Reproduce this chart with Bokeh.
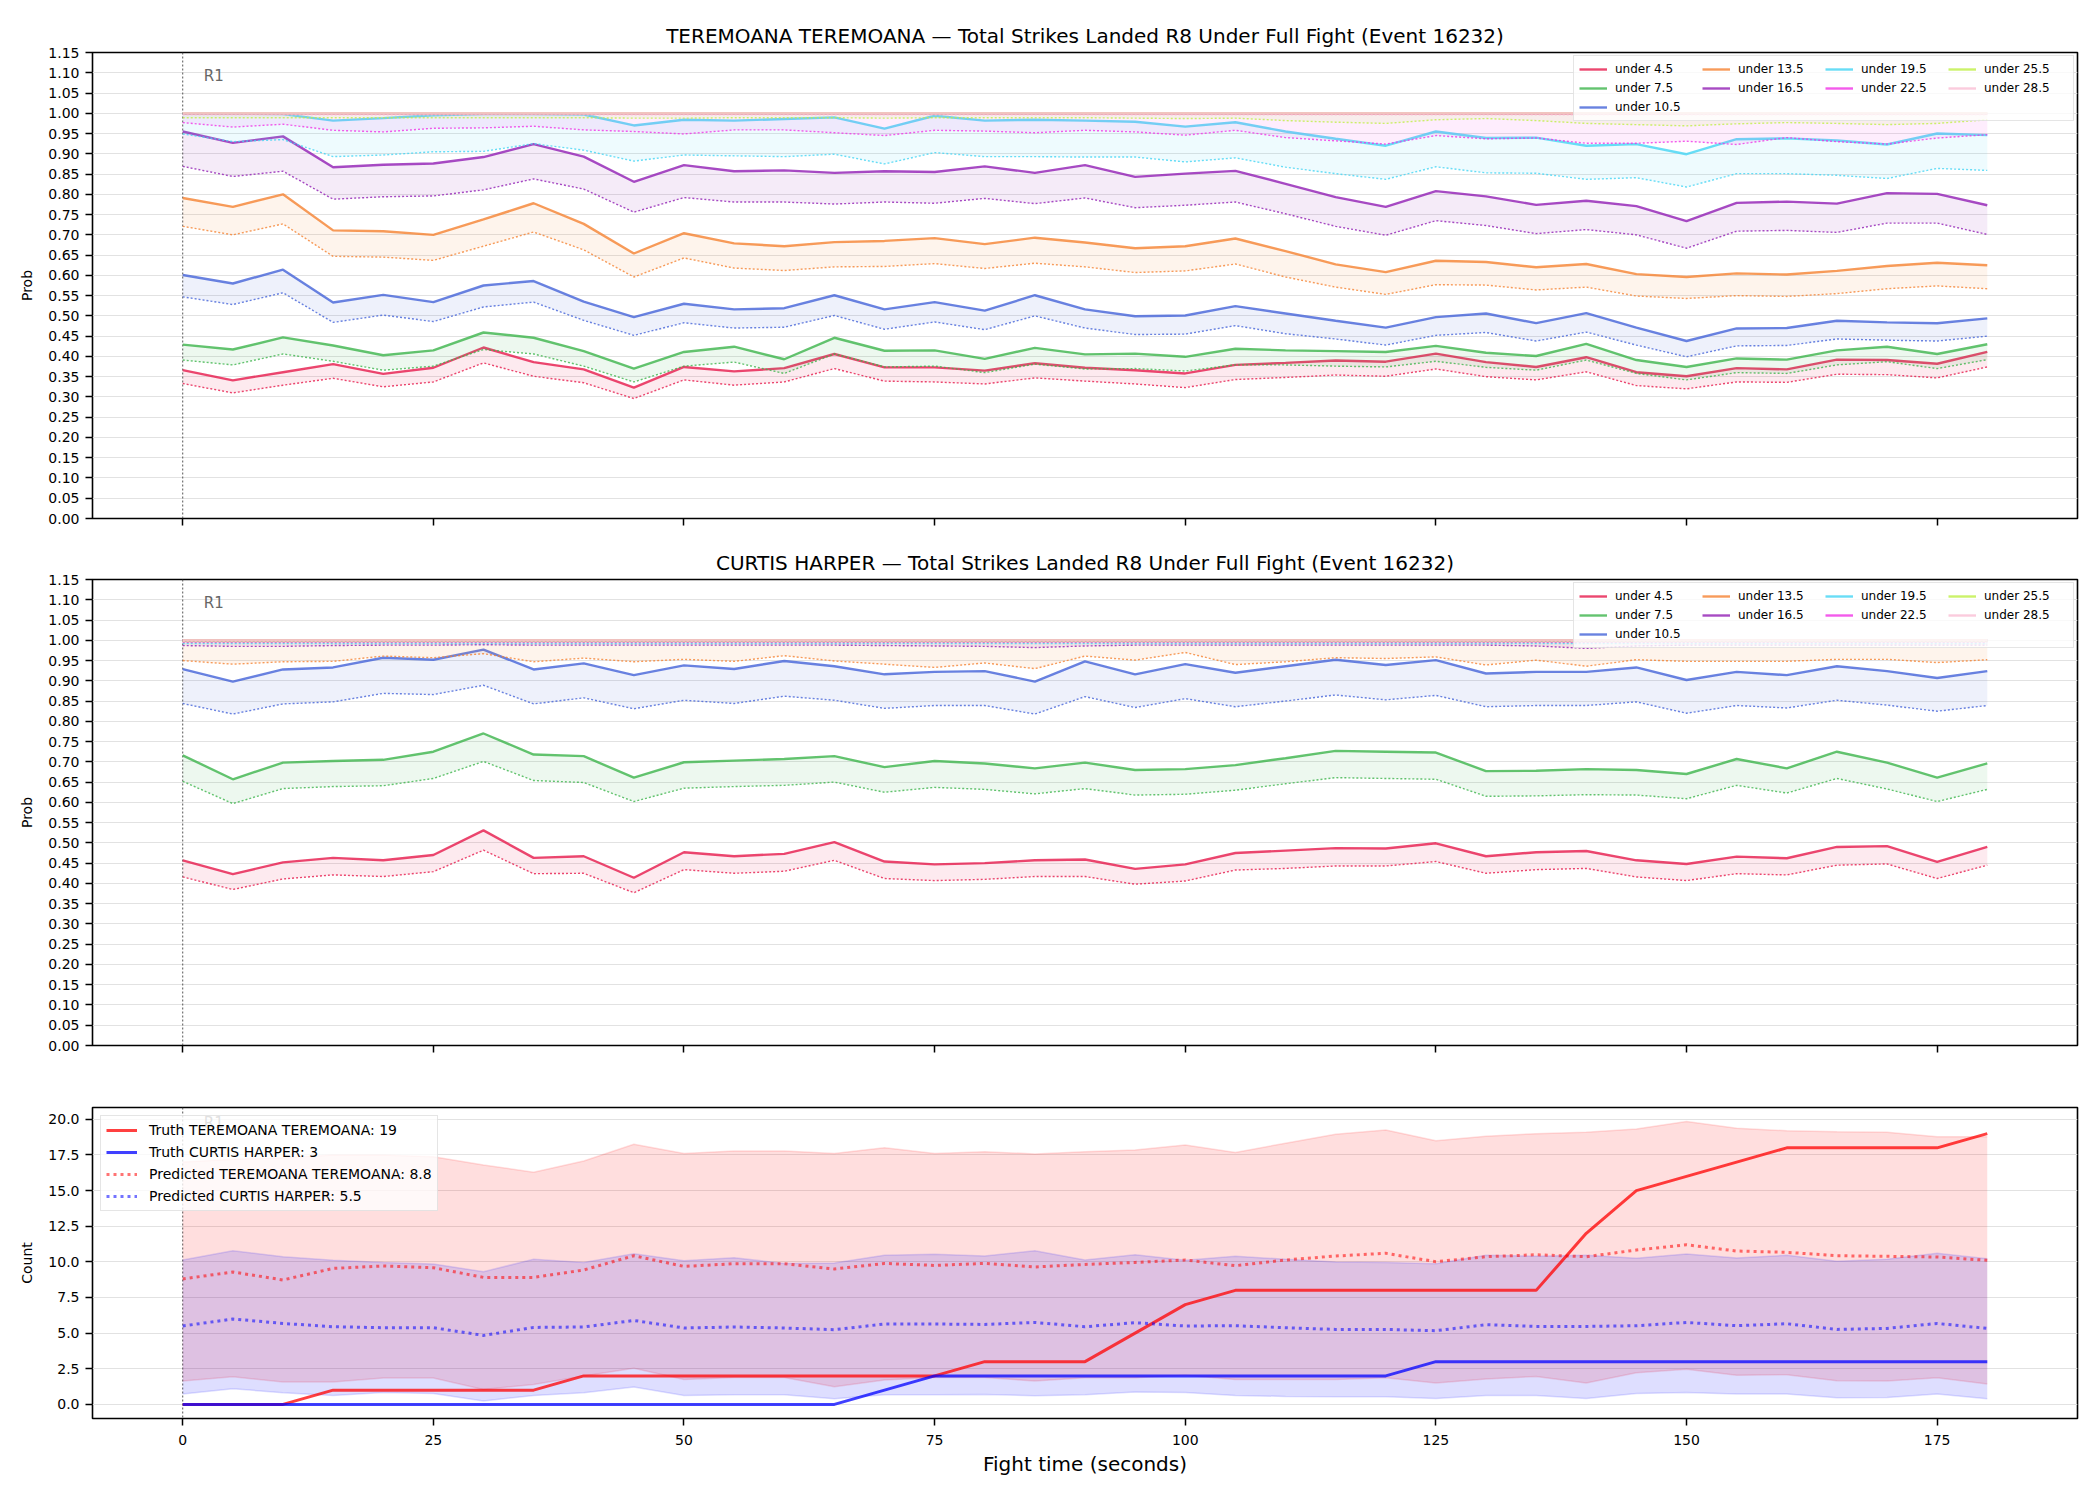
from bokeh.plotting import figure
from bokeh.layouts import column
from bokeh.models import (Range1d, FixedTicker, NumeralTickFormatter, CustomJSTickFormatter,
                          Legend, LegendItem, Span, Label)
from bokeh.embed import file_html
from bokeh.resources import INLINE

FONT = "DejaVu Sans"

# ---------------------------------------------------------------- data
fight_time = [0, 5, 10, 15, 20, 25, 30, 35, 40, 45, 50, 55, 60, 65, 70, 75, 80, 85, 90,
              95, 100, 105, 110, 115, 120, 125, 130, 135, 140, 145, 150, 155, 160, 165,
              170, 175, 180]
time_ticks = [0, 25, 50, 75, 100, 125, 150, 175]
prob_ticks = [0.0, 0.05, 0.1, 0.15, 0.2, 0.25, 0.3, 0.35, 0.4, 0.45, 0.5, 0.55, 0.6,
              0.65, 0.7, 0.75, 0.8, 0.85, 0.9, 0.95, 1.0, 1.05, 1.1, 1.15]
count_ticks = [0.0, 2.5, 5.0, 7.5, 10.0, 12.5, 15.0, 17.5, 20.0]

round_starts = [0]
round_names = ["R1"]

fighter_a = "TEREMOANA TEREMOANA"
fighter_b = "CURTIS HARPER"
market_title = "Total Strikes Landed R8 Under Full Fight (Event 16232)"

thresholds = [4.5, 7.5, 10.5, 13.5, 16.5, 19.5, 22.5, 25.5, 28.5]
line_colors = ["#e6194B", "#3cb44b", "#4363d8", "#f58231", "#911eb4",
               "#42d4f4", "#f032e6", "#bfef45", "#fabed4"]

# TEREMOANA: upper (solid) and lower (dotted) probability per threshold
tere_u4_hi = [0.366, 0.341, 0.361, 0.381, 0.357, 0.372, 0.422, 0.386, 0.368, 0.323, 0.374, 0.363,
              0.371, 0.406, 0.373, 0.373, 0.365, 0.383, 0.372, 0.366, 0.358, 0.379, 0.384, 0.390,
              0.387, 0.407, 0.386, 0.374, 0.398, 0.361, 0.351, 0.371, 0.368, 0.392, 0.391, 0.382, 0.411]
tere_u4_lo = [0.333, 0.310, 0.329, 0.346, 0.325, 0.337, 0.384, 0.351, 0.335, 0.296, 0.342, 0.329,
              0.337, 0.370, 0.339, 0.337, 0.332, 0.347, 0.339, 0.332, 0.323, 0.343, 0.348, 0.354,
              0.351, 0.369, 0.350, 0.342, 0.362, 0.328, 0.320, 0.337, 0.336, 0.356, 0.355, 0.347, 0.374]
tere_u7_hi = [0.429, 0.417, 0.447, 0.427, 0.403, 0.415, 0.459, 0.446, 0.413, 0.370, 0.411, 0.424,
              0.393, 0.446, 0.414, 0.415, 0.394, 0.421, 0.405, 0.407, 0.399, 0.419, 0.415, 0.413,
              0.411, 0.426, 0.409, 0.401, 0.431, 0.391, 0.374, 0.395, 0.392, 0.415, 0.424, 0.406, 0.430]
tere_u7_lo = [0.391, 0.379, 0.406, 0.388, 0.366, 0.376, 0.417, 0.406, 0.376, 0.337, 0.376, 0.386,
              0.358, 0.406, 0.374, 0.376, 0.360, 0.381, 0.369, 0.370, 0.364, 0.379, 0.379, 0.376,
              0.374, 0.388, 0.373, 0.366, 0.391, 0.358, 0.342, 0.360, 0.358, 0.379, 0.387, 0.370, 0.392]
tere_u10_hi = [0.601, 0.580, 0.614, 0.533, 0.552, 0.534, 0.575, 0.586, 0.535, 0.497, 0.530, 0.516,
               0.519, 0.551, 0.516, 0.534, 0.513, 0.551, 0.516, 0.499, 0.501, 0.524, 0.506, 0.488,
               0.471, 0.497, 0.506, 0.482, 0.507, 0.471, 0.438, 0.469, 0.470, 0.488, 0.484, 0.482, 0.494]
tere_u10_lo = [0.547, 0.528, 0.557, 0.484, 0.502, 0.486, 0.522, 0.534, 0.489, 0.452, 0.483, 0.470,
               0.472, 0.501, 0.467, 0.485, 0.466, 0.500, 0.470, 0.454, 0.455, 0.476, 0.456, 0.443,
               0.428, 0.452, 0.459, 0.438, 0.460, 0.428, 0.399, 0.426, 0.427, 0.443, 0.440, 0.438, 0.450]
tere_u13_hi = [0.791, 0.769, 0.800, 0.711, 0.709, 0.700, 0.738, 0.778, 0.727, 0.654, 0.704, 0.679,
               0.672, 0.682, 0.685, 0.692, 0.677, 0.693, 0.681, 0.667, 0.672, 0.691, 0.660, 0.627,
               0.608, 0.636, 0.633, 0.620, 0.628, 0.603, 0.596, 0.605, 0.602, 0.611, 0.623, 0.631, 0.625]
tere_u13_lo = [0.721, 0.700, 0.727, 0.647, 0.645, 0.637, 0.672, 0.707, 0.663, 0.596, 0.643, 0.618,
               0.612, 0.621, 0.622, 0.629, 0.617, 0.630, 0.621, 0.607, 0.611, 0.628, 0.596, 0.571,
               0.553, 0.577, 0.576, 0.564, 0.571, 0.549, 0.543, 0.550, 0.548, 0.555, 0.567, 0.574, 0.567]
tere_u16_hi = [0.955, 0.927, 0.943, 0.867, 0.873, 0.876, 0.892, 0.924, 0.893, 0.831, 0.872, 0.857,
               0.859, 0.853, 0.857, 0.855, 0.869, 0.853, 0.872, 0.843, 0.851, 0.858, 0.826, 0.793,
               0.769, 0.808, 0.795, 0.774, 0.784, 0.771, 0.734, 0.779, 0.782, 0.777, 0.803, 0.801, 0.773]
tere_u16_lo = [0.869, 0.844, 0.857, 0.788, 0.794, 0.796, 0.811, 0.838, 0.813, 0.756, 0.792, 0.781,
               0.781, 0.776, 0.781, 0.778, 0.790, 0.777, 0.791, 0.767, 0.773, 0.781, 0.752, 0.721,
               0.699, 0.735, 0.723, 0.703, 0.713, 0.700, 0.667, 0.709, 0.711, 0.706, 0.729, 0.729, 0.701]
tere_u19_hi = [0.999, 0.999, 0.998, 0.982, 0.988, 0.995, 0.998, 0.998, 0.997, 0.970, 0.984, 0.982,
               0.986, 0.990, 0.962, 0.994, 0.982, 0.984, 0.982, 0.979, 0.967, 0.978, 0.955, 0.937,
               0.920, 0.955, 0.939, 0.940, 0.920, 0.924, 0.899, 0.936, 0.938, 0.933, 0.923, 0.950, 0.946]
tere_u19_lo = [0.949, 0.930, 0.935, 0.893, 0.897, 0.905, 0.906, 0.925, 0.909, 0.882, 0.897, 0.895,
               0.893, 0.899, 0.875, 0.903, 0.893, 0.893, 0.892, 0.892, 0.880, 0.890, 0.867, 0.851,
               0.837, 0.868, 0.853, 0.852, 0.837, 0.841, 0.818, 0.851, 0.851, 0.847, 0.839, 0.864, 0.859]
tere_u22_hi = [0.999, 0.999, 0.999, 0.999, 0.999, 0.999, 0.999, 0.999, 0.999, 0.999, 0.999, 0.999,
               0.999, 0.999, 0.999, 0.999, 0.999, 0.999, 0.999, 0.999, 0.999, 0.999, 0.999, 0.999,
               0.999, 0.999, 0.999, 0.999, 0.999, 0.999, 0.999, 0.999, 0.999, 0.999, 0.999, 0.999, 0.999]
tere_u22_lo = [0.977, 0.966, 0.973, 0.958, 0.954, 0.963, 0.964, 0.968, 0.959, 0.955, 0.949, 0.959,
               0.959, 0.952, 0.945, 0.958, 0.956, 0.952, 0.958, 0.954, 0.946, 0.958, 0.940, 0.932,
               0.924, 0.945, 0.937, 0.939, 0.926, 0.926, 0.931, 0.923, 0.940, 0.930, 0.924, 0.939, 0.947]
tere_u25_hi = [1.0, 1.0, 1.0, 1.0, 1.0, 1.0, 1.0, 1.0, 1.0, 1.0, 1.0, 1.0,
               1.0, 1.0, 1.0, 1.0, 1.0, 1.0, 1.0, 1.0, 1.0, 1.0, 1.0, 1.0,
               1.0, 1.0, 1.0, 1.0, 1.0, 1.0, 1.0, 1.0, 1.0, 1.0, 1.0, 1.0, 1.0]
tere_u25_lo = [0.989, 0.989, 0.989, 0.989, 0.989, 0.989, 0.989, 0.989, 0.989, 0.988, 0.988, 0.989,
               0.989, 0.989, 0.988, 0.989, 0.989, 0.989, 0.989, 0.988, 0.987, 0.988, 0.982, 0.978,
               0.975, 0.984, 0.987, 0.982, 0.975, 0.972, 0.969, 0.974, 0.977, 0.975, 0.972, 0.975, 0.984]
tere_u28_hi = [1.0, 1.0, 1.0, 1.0, 1.0, 1.0, 1.0, 1.0, 1.0, 1.0, 1.0, 1.0,
               1.0, 1.0, 1.0, 1.0, 1.0, 1.0, 1.0, 1.0, 1.0, 1.0, 1.0, 1.0,
               1.0, 1.0, 1.0, 1.0, 1.0, 1.0, 1.0, 1.0, 1.0, 1.0, 1.0, 1.0, 1.0]
tere_u28_lo = [0.996, 0.996, 0.996, 0.996, 0.996, 0.996, 0.996, 0.996, 0.996, 0.996, 0.996, 0.996,
               0.996, 0.996, 0.996, 0.996, 0.996, 0.996, 0.996, 0.996, 0.996, 0.996, 0.996, 0.996,
               0.996, 0.996, 0.996, 0.996, 0.996, 0.996, 0.996, 0.996, 0.996, 0.996, 0.996, 0.996, 0.996]

# CURTIS HARPER
harp_u4_hi = [0.457, 0.423, 0.452, 0.463, 0.457, 0.470, 0.531, 0.463, 0.467, 0.414, 0.477, 0.467,
              0.473, 0.502, 0.454, 0.447, 0.450, 0.457, 0.459, 0.436, 0.447, 0.475, 0.481, 0.487,
              0.486, 0.499, 0.467, 0.477, 0.480, 0.457, 0.448, 0.466, 0.462, 0.490, 0.492, 0.453, 0.490]
harp_u4_lo = [0.416, 0.385, 0.411, 0.421, 0.417, 0.429, 0.482, 0.424, 0.425, 0.377, 0.434, 0.425,
              0.430, 0.457, 0.412, 0.407, 0.410, 0.417, 0.417, 0.398, 0.406, 0.433, 0.437, 0.443,
              0.443, 0.454, 0.425, 0.434, 0.437, 0.416, 0.407, 0.424, 0.421, 0.445, 0.448, 0.412, 0.445]
harp_u7_hi = [0.716, 0.657, 0.698, 0.702, 0.705, 0.725, 0.770, 0.718, 0.714, 0.661, 0.699, 0.703,
              0.707, 0.714, 0.687, 0.702, 0.696, 0.684, 0.698, 0.680, 0.682, 0.692, 0.709, 0.727,
              0.725, 0.723, 0.677, 0.678, 0.682, 0.680, 0.670, 0.707, 0.684, 0.725, 0.698, 0.661, 0.696]
harp_u7_lo = [0.652, 0.597, 0.634, 0.639, 0.641, 0.659, 0.701, 0.654, 0.649, 0.602, 0.635, 0.639,
              0.642, 0.650, 0.625, 0.637, 0.632, 0.621, 0.634, 0.618, 0.620, 0.630, 0.646, 0.661,
              0.659, 0.657, 0.615, 0.616, 0.619, 0.618, 0.609, 0.642, 0.623, 0.659, 0.633, 0.602, 0.632]
harp_u10_hi = [0.929, 0.898, 0.928, 0.933, 0.957, 0.952, 0.977, 0.928, 0.943, 0.914, 0.938, 0.929,
               0.949, 0.936, 0.916, 0.922, 0.924, 0.898, 0.948, 0.916, 0.941, 0.920, 0.936, 0.952,
               0.939, 0.951, 0.918, 0.922, 0.922, 0.933, 0.902, 0.922, 0.914, 0.936, 0.924, 0.907, 0.924]
harp_u10_lo = [0.844, 0.818, 0.843, 0.848, 0.869, 0.866, 0.889, 0.843, 0.858, 0.831, 0.852, 0.844,
               0.862, 0.852, 0.832, 0.839, 0.839, 0.818, 0.861, 0.834, 0.856, 0.836, 0.850, 0.865,
               0.853, 0.864, 0.836, 0.839, 0.839, 0.848, 0.820, 0.839, 0.833, 0.852, 0.840, 0.825, 0.839]
harp_u13_hi = [0.999, 0.999, 0.999, 0.999, 0.999, 0.999, 0.999, 0.999, 0.999, 0.999, 0.999, 0.999,
               0.999, 0.999, 0.999, 0.999, 0.999, 0.999, 0.999, 0.999, 0.999, 0.999, 0.999, 0.999,
               0.999, 0.999, 0.999, 0.999, 0.999, 0.999, 0.999, 0.999, 0.999, 0.999, 0.999, 0.999, 0.999]
harp_u13_lo = [0.950, 0.941, 0.947, 0.948, 0.961, 0.957, 0.967, 0.947, 0.956, 0.947, 0.953, 0.948,
               0.962, 0.949, 0.941, 0.933, 0.944, 0.930, 0.961, 0.951, 0.970, 0.940, 0.947, 0.957,
               0.955, 0.959, 0.939, 0.951, 0.936, 0.952, 0.948, 0.948, 0.948, 0.953, 0.953, 0.945, 0.952]
harp_u16_hi = [1.0, 1.0, 1.0, 1.0, 1.0, 1.0, 1.0, 1.0, 1.0, 1.0, 1.0, 1.0,
               1.0, 1.0, 1.0, 1.0, 1.0, 1.0, 1.0, 1.0, 1.0, 1.0, 1.0, 1.0,
               1.0, 1.0, 1.0, 1.0, 1.0, 1.0, 1.0, 1.0, 1.0, 1.0, 1.0, 1.0, 1.0]
harp_u16_lo = [0.987, 0.985, 0.985, 0.987, 0.988, 0.988, 0.989, 0.988, 0.988, 0.988, 0.988, 0.988,
               0.988, 0.988, 0.987, 0.986, 0.985, 0.982, 0.986, 0.988, 0.988, 0.988, 0.988, 0.988,
               0.988, 0.988, 0.988, 0.986, 0.980, 0.986, 0.988, 0.988, 0.988, 0.988, 0.988, 0.988, 0.988]
harp_u19_hi = [1.0, 1.0, 1.0, 1.0, 1.0, 1.0, 1.0, 1.0, 1.0, 1.0, 1.0, 1.0,
               1.0, 1.0, 1.0, 1.0, 1.0, 1.0, 1.0, 1.0, 1.0, 1.0, 1.0, 1.0,
               1.0, 1.0, 1.0, 1.0, 1.0, 1.0, 1.0, 1.0, 1.0, 1.0, 1.0, 1.0, 1.0]
harp_u19_lo = [0.992, 0.992, 0.992, 0.992, 0.992, 0.992, 0.992, 0.992, 0.992, 0.992, 0.992, 0.992,
               0.992, 0.992, 0.992, 0.992, 0.992, 0.992, 0.992, 0.992, 0.992, 0.992, 0.992, 0.992,
               0.992, 0.992, 0.992, 0.992, 0.992, 0.992, 0.992, 0.992, 0.992, 0.992, 0.992, 0.992, 0.992]
harp_u22_hi = [1.0, 1.0, 1.0, 1.0, 1.0, 1.0, 1.0, 1.0, 1.0, 1.0, 1.0, 1.0,
               1.0, 1.0, 1.0, 1.0, 1.0, 1.0, 1.0, 1.0, 1.0, 1.0, 1.0, 1.0,
               1.0, 1.0, 1.0, 1.0, 1.0, 1.0, 1.0, 1.0, 1.0, 1.0, 1.0, 1.0, 1.0]
harp_u22_lo = [0.995, 0.995, 0.995, 0.995, 0.995, 0.995, 0.995, 0.995, 0.995, 0.995, 0.995, 0.995,
               0.995, 0.995, 0.995, 0.995, 0.995, 0.995, 0.995, 0.995, 0.995, 0.995, 0.995, 0.995,
               0.995, 0.995, 0.995, 0.995, 0.995, 0.995, 0.995, 0.995, 0.995, 0.995, 0.995, 0.995, 0.995]
harp_u25_hi = [1.0, 1.0, 1.0, 1.0, 1.0, 1.0, 1.0, 1.0, 1.0, 1.0, 1.0, 1.0,
               1.0, 1.0, 1.0, 1.0, 1.0, 1.0, 1.0, 1.0, 1.0, 1.0, 1.0, 1.0,
               1.0, 1.0, 1.0, 1.0, 1.0, 1.0, 1.0, 1.0, 1.0, 1.0, 1.0, 1.0, 1.0]
harp_u25_lo = [0.997, 0.997, 0.997, 0.997, 0.997, 0.997, 0.997, 0.997, 0.997, 0.997, 0.997, 0.997,
               0.997, 0.997, 0.997, 0.997, 0.997, 0.997, 0.997, 0.997, 0.997, 0.997, 0.997, 0.997,
               0.997, 0.997, 0.997, 0.997, 0.997, 0.997, 0.997, 0.997, 0.997, 0.997, 0.997, 0.997, 0.997]
harp_u28_hi = [1.0, 1.0, 1.0, 1.0, 1.0, 1.0, 1.0, 1.0, 1.0, 1.0, 1.0, 1.0,
               1.0, 1.0, 1.0, 1.0, 1.0, 1.0, 1.0, 1.0, 1.0, 1.0, 1.0, 1.0,
               1.0, 1.0, 1.0, 1.0, 1.0, 1.0, 1.0, 1.0, 1.0, 1.0, 1.0, 1.0, 1.0]
harp_u28_lo = [0.998, 0.998, 0.998, 0.998, 0.998, 0.998, 0.998, 0.998, 0.998, 0.998, 0.998, 0.998,
               0.998, 0.998, 0.998, 0.998, 0.998, 0.998, 0.998, 0.998, 0.998, 0.998, 0.998, 0.998,
               0.998, 0.998, 0.998, 0.998, 0.998, 0.998, 0.998, 0.998, 0.998, 0.998, 0.998, 0.998, 0.998]

# Cumulative strike counts: truth, prediction, prediction band
truth_a = [0, 0, 0, 1, 1, 1, 1, 1, 2, 2, 2, 2, 2, 2, 2, 2, 3, 3, 3, 5, 7, 8, 8, 8, 8, 8, 8, 8,
           12, 15, 16, 17, 18, 18, 18, 18, 19]
truth_b = [0, 0, 0, 0, 0, 0, 0, 0, 0, 0, 0, 0, 0, 0, 1, 2, 2, 2, 2, 2, 2, 2, 2, 2, 2, 3, 3, 3,
           3, 3, 3, 3, 3, 3, 3, 3, 3]
pred_a = [8.8, 9.29, 8.73, 9.54, 9.71, 9.59, 8.91, 8.91, 9.43, 10.43, 9.68, 9.87, 9.87, 9.50,
          9.89, 9.75, 9.89, 9.64, 9.82, 9.96, 10.13, 9.73, 10.13, 10.41, 10.60, 10.01, 10.36,
          10.50, 10.36, 10.83, 11.20, 10.76, 10.67, 10.43, 10.39, 10.34, 10.11]
pred_b = [5.5, 5.99, 5.68, 5.45, 5.38, 5.38, 4.84, 5.40, 5.43, 5.89, 5.36, 5.43, 5.36, 5.24,
          5.64, 5.64, 5.61, 5.75, 5.45, 5.73, 5.50, 5.52, 5.38, 5.26, 5.26, 5.17, 5.59, 5.47,
          5.47, 5.52, 5.75, 5.52, 5.66, 5.26, 5.33, 5.68, 5.33]
band_a_hi = [17.0, 17.2, 17.3, 17.5, 17.5, 17.38, 16.80, 16.28, 17.08, 18.25, 17.61, 17.78,
             17.78, 17.61, 18.01, 17.61, 17.73, 17.57, 17.73, 17.85, 18.20, 17.68, 18.32, 18.95,
             19.25, 18.50, 18.81, 18.99, 19.09, 19.32, 19.84, 19.37, 19.20, 19.13, 19.09, 18.78, 18.78]
band_a_lo = [1.64, 1.94, 1.57, 1.57, 1.85, 1.85, 1.05, 1.40, 1.99, 2.53, 1.75, 1.89, 1.89, 1.24,
             1.71, 1.89, 1.89, 1.64, 1.87, 1.87, 2.04, 1.75, 1.75, 1.75, 1.87, 1.50, 1.78, 1.96,
             1.50, 2.22, 2.46, 2.04, 2.08, 1.66, 1.64, 1.87, 1.43]
band_b_hi = [10.13, 10.78, 10.36, 10.11, 9.96, 9.85, 9.31, 10.18, 9.96, 10.57, 10.08, 10.29,
             9.89, 9.92, 10.46, 10.53, 10.41, 10.78, 10.13, 10.50, 10.11, 10.39, 10.18, 9.99,
             9.96, 9.87, 10.46, 10.39, 10.46, 10.25, 10.55, 10.27, 10.46, 10.04, 10.18, 10.60, 10.22]
band_b_lo = [0.73, 1.10, 0.82, 0.63, 0.84, 0.77, 0.23, 0.63, 0.82, 1.22, 0.63, 0.68, 0.68, 0.40,
             0.68, 0.68, 0.70, 0.61, 0.68, 0.87, 0.84, 0.63, 0.56, 0.54, 0.54, 0.42, 0.63, 0.63,
             0.42, 0.77, 0.84, 0.73, 0.73, 0.47, 0.49, 0.73, 0.40]

tere_hi = [tere_u4_hi, tere_u7_hi, tere_u10_hi, tere_u13_hi, tere_u16_hi, tere_u19_hi,
           tere_u22_hi, tere_u25_hi, tere_u28_hi]
tere_lo = [tere_u4_lo, tere_u7_lo, tere_u10_lo, tere_u13_lo, tere_u16_lo, tere_u19_lo,
           tere_u22_lo, tere_u25_lo, tere_u28_lo]
harp_hi = [harp_u4_hi, harp_u7_hi, harp_u10_hi, harp_u13_hi, harp_u16_hi, harp_u19_hi,
           harp_u22_hi, harp_u25_hi, harp_u28_hi]
harp_lo = [harp_u4_lo, harp_u7_lo, harp_u10_lo, harp_u13_lo, harp_u16_lo, harp_u19_lo,
           harp_u22_lo, harp_u25_lo, harp_u28_lo]

for series in tere_hi + tere_lo + harp_hi + harp_lo + [truth_a, truth_b, pred_a, pred_b,
                                                       band_a_hi, band_a_lo, band_b_hi, band_b_lo]:
    if len(series) != len(fight_time):
        raise ValueError("series length mismatch: %d" % len(series))

# ---------------------------------------------------------------- layout constants
FRAME_W = 1985
LEFT, RIGHT = 92, 23
X_RANGE = (-9, 189)


def base_figure(frame_h, y_range, top, bottom, title=None):
    kw = dict(frame_width=FRAME_W, frame_height=frame_h,
              x_range=Range1d(*X_RANGE), y_range=Range1d(*y_range),
              output_backend="svg", toolbar_location=None,
              min_border_left=LEFT, min_border_right=RIGHT,
              min_border_top=top, min_border_bottom=bottom)
    if title is not None:
        kw["title"] = title
    p = figure(**kw)
    if title is not None:
        p.title.align = "center"
        p.title.text_font = FONT
        p.title.text_font_size = "20px"
        p.title.text_font_style = "normal"
        p.title.text_color = "black"
        p.title.standoff = 10
    p.outline_line_color = "black"
    p.outline_line_width = 1.6
    p.outline_line_alpha = 1.0
    p.background_fill_color = "white"
    p.border_fill_color = "white"
    for ax in (p.xaxis[0], p.yaxis[0]):
        ax.axis_line_color = None
        ax.major_tick_line_color = "black"
        ax.major_tick_line_width = 1.5
        ax.major_tick_out = 7
        ax.major_tick_in = 0
        ax.minor_tick_line_color = None
        ax.major_label_text_font = FONT
        ax.major_label_text_font_size = "14px"
        ax.major_label_text_color = "black"
        ax.axis_label_text_font = FONT
        ax.axis_label_text_font_style = "normal"
        ax.axis_label_text_color = "black"
    p.xaxis.ticker = FixedTicker(ticks=time_ticks)
    p.yaxis.major_label_standoff = 6
    p.yaxis.axis_label_standoff = 10
    p.yaxis.axis_label_text_font_size = "14px"
    p.xgrid.grid_line_color = None
    p.ygrid.grid_line_color = "#e2e2e2"
    p.ygrid.grid_line_width = 1.2
    for rs in round_starts:
        p.add_layout(Span(location=rs, dimension="height", line_color="#555555",
                          line_width=1, line_dash="2 2", level="underlay"))
    return p


def prob_panel(fighter, hi_list, lo_list, top):
    p = base_figure(466, (0, 1.15), top, 22, title=f"{fighter} \u2014 {market_title}")
    p.yaxis.ticker = FixedTicker(ticks=prob_ticks)
    p.yaxis.formatter = NumeralTickFormatter(format="0.00")
    p.yaxis.axis_label = "Prob"
    p.xaxis.formatter = CustomJSTickFormatter(code="return ''")
    p.xaxis.major_label_standoff = 0

    handles = []
    for th, col, hi, lo in zip(thresholds, line_colors, hi_list, lo_list):
        p.varea(x=fight_time, y1=lo, y2=hi, fill_color=col, fill_alpha=0.09)
        r = p.line(fight_time, hi, line_color=col, line_alpha=0.8, line_width=2.4)
        p.line(fight_time, lo, line_color=col, line_alpha=0.8, line_width=1.4, line_dash="2 2")
        handles.append(LegendItem(label=f"under {th}", renderers=[r]))

    for rs, name in zip(round_starts, round_names):
        p.add_layout(Label(x=rs, y=1.092, x_offset=21, text=name, text_font=FONT,
                           text_font_size="15px", text_color="#666666",
                           text_baseline="middle"))

    # four columns, filled column by column (3, 2, 2, 2)
    order = [0, 3, 5, 7, 1, 4, 6, 8, 2]
    legend = Legend(items=[handles[i] for i in order], orientation="horizontal", ncols=4,
                    location="top_right", margin=3, padding=5, spacing=3,
                    glyph_width=28, glyph_height=16, label_height=16, label_width=84,
                    label_standoff=8, label_text_font=FONT, label_text_font_size="12px",
                    label_text_color="black",
                    border_line_color="#cccccc", border_line_width=1.2,
                    background_fill_color="white", background_fill_alpha=0.8)
    p.add_layout(legend)
    return p


p1 = prob_panel(fighter_a, tere_hi, tere_lo, top=52)
p2 = prob_panel(fighter_b, harp_hi, harp_lo, top=39)

# ---------------------------------------------------------------- counts panel
p3 = base_figure(311, (-0.99, 20.83), 40, 72)
p3.yaxis.ticker = FixedTicker(ticks=count_ticks)
p3.yaxis.formatter = NumeralTickFormatter(format="0.0")
p3.yaxis.axis_label = "Count"
p3.xaxis.axis_label = "Fight time (seconds)"
p3.xaxis.axis_label_text_font_size = "20px"
p3.xaxis.major_label_standoff = 9
p3.xaxis.axis_label_standoff = 4

for lo, hi, col in ((band_a_lo, band_a_hi, "red"), (band_b_lo, band_b_hi, "blue")):
    p3.varea(x=fight_time, y1=lo, y2=hi, fill_color=col, fill_alpha=0.13)
    p3.line(fight_time, hi, line_color=col, line_alpha=0.13, line_width=1.5)
    p3.line(fight_time, lo, line_color=col, line_alpha=0.13, line_width=1.5)

r_ta = p3.line(fight_time, truth_a, line_color="red", line_alpha=0.75, line_width=3)
r_tb = p3.line(fight_time, truth_b, line_color="blue", line_alpha=0.75, line_width=3)
r_pa = p3.line(fight_time, pred_a, line_color="red", line_alpha=0.55, line_width=3,
               line_dash="3 4")
r_pb = p3.line(fight_time, pred_b, line_color="blue", line_alpha=0.55, line_width=3,
               line_dash="3 4")

for rs, name in zip(round_starts, round_names):
    p3.add_layout(Label(x=rs, y=19.75, x_offset=21, text=name, text_font=FONT,
                        text_font_size="15px", text_color="#666666", text_baseline="middle"))

legend3 = Legend(items=[
    LegendItem(label=f"Truth {fighter_a}: {truth_a[-1]}", renderers=[r_ta]),
    LegendItem(label=f"Truth {fighter_b}: {truth_b[-1]}", renderers=[r_tb]),
    LegendItem(label=f"Predicted {fighter_a}: {pred_a[0]:.1f}", renderers=[r_pa]),
    LegendItem(label=f"Predicted {fighter_b}: {pred_b[0]:.1f}", renderers=[r_pb]),
], location="top_left", margin=8, padding=5, spacing=4,
    glyph_width=31, glyph_height=18, label_height=18, label_standoff=12,
    label_text_font=FONT, label_text_font_size="14px", label_text_color="black",
    border_line_color="#cccccc", border_line_width=1.2,
    background_fill_color="white", background_fill_alpha=0.8)
p3.add_layout(legend3)

layout = column(p1, p2, p3)
open("out.html", "w").write(file_html(layout, INLINE))
